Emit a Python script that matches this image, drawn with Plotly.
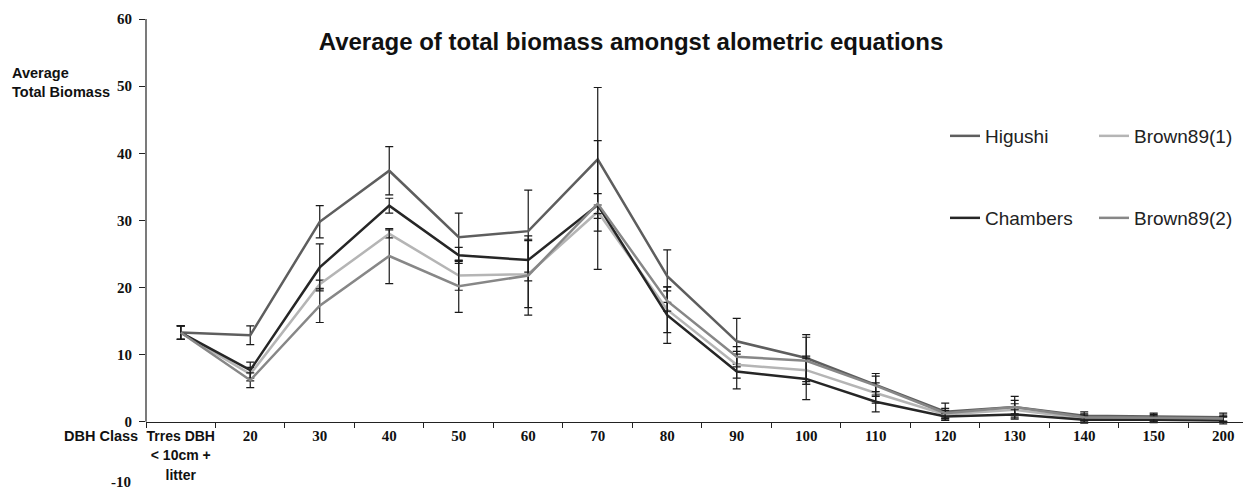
import plotly.graph_objects as go

categories = ["Trres", "20", "30", "40", "50", "60", "70", "80", "90", "100",
              "110", "120", "130", "140", "150", "200"]
tick_labels = ['<span style="font-family:Liberation Sans, Arial;font-size:14px">Trres DBH<br>&lt; 10cm +<br>litter</span>',
               "20", "30", "40", "50", "60", "70", "80", "90", "100",
               "110", "120", "130", "140", "150", "200"]

higushi = [13.3, 12.9, 29.8, 37.4, 27.5, 28.4, 39.1, 21.7, 12.0, 9.5, 5.5, 1.5, 2.2, 0.9, 0.8, 0.7]
chambers = [13.3, 7.7, 23.0, 32.2, 24.8, 24.1, 32.3, 15.9, 7.5, 6.4, 3.0, 0.8, 1.1, 0.3, 0.3, 0.2]
brown1 = [13.3, 7.1, 20.5, 28.0, 21.8, 22.0, 31.3, 16.7, 8.5, 7.7, 4.3, 1.1, 1.8, 0.5, 0.5, 0.4]
brown2 = [13.3, 6.2, 17.3, 24.7, 20.2, 21.8, 32.5, 18.0, 9.7, 9.1, 5.4, 1.3, 2.2, 0.7, 0.6, 0.5]

higushi_err = [1.0, 1.4, 2.4, 3.6, 3.6, 6.1, 10.7, 3.9, 3.4, 3.5, 1.7, 1.3, 1.6, 0.6, 0.5, 0.6]
chambers_err = [1.0, 1.2, 3.5, 1.1, 1.2, 3.1, 9.6, 4.2, 2.6, 3.1, 1.5, 0.5, 0.7, 0.5, 0.4, 0.5]
brown1_err = [1.0, 1.0, 0.6, 0.6, 2.2, 5.0, 1.0, 3.4, 2.0, 2.1, 1.5, 0.6, 0.9, 0.5, 0.4, 0.4]
brown2_err = [1.0, 1.1, 2.5, 4.1, 3.9, 5.9, 1.5, 1.5, 1.5, 3.5, 1.4, 0.7, 1.0, 0.5, 0.5, 0.5]

y_ticks = [0, 10, 20, 30, 40, 50, 60]
y_min_label = -10

series = [
    ("Higushi", higushi, higushi_err, "#5e5e5e", "legend"),
    ("Brown89(1)", brown1, brown1_err, "#b5b5b5", "legend"),
    ("Chambers", chambers, chambers_err, "#262626", "legend2"),
    ("Brown89(2)", brown2, brown2_err, "#878787", "legend2"),
]

fig = go.Figure()
for name, vals, errs, color, leg in series:
    fig.add_trace(go.Scatter(
        x=categories, y=vals, mode="lines", name=name,
        line=dict(color=color, width=2.5),
        error_y=dict(type="data", array=errs, visible=True,
                     color="#1a1a1a", thickness=1.2, width=4),
        legend=leg,
    ))

# page body has an 8px margin; figure is sized/offset to compensate
OFF = 8
W, H = 1251 - OFF, 493 - OFF
ml, mr, mt, mb = 146 - OFF, 0, 19 - OFF, 4
pw = W - ml - mr
ph = H - mt - mb

def px_x(x):
    return (x - OFF - ml) / pw

def px_y(y):
    return (H - mb - (y - OFF)) / ph

legend_common = dict(orientation="h", xanchor="left", yanchor="middle",
                     font=dict(family="Liberation Sans, Arial", size=19, color="#222222"),
                     bgcolor="rgba(0,0,0,0)", entrywidth=104, entrywidthmode="pixels",
                     itemwidth=30)

serif_bold = dict(family="Liberation Serif, Times New Roman", size=15, color="#111111", weight="bold")

fig.update_layout(
    width=W, height=H,
    margin=dict(l=ml, r=mr, t=mt, b=mb, autoexpand=False),
    plot_bgcolor="white", paper_bgcolor="white",
    showlegend=True,
    legend=dict(x=px_x(945), y=px_y(136), **legend_common),
    legend2=dict(x=px_x(945), y=px_y(218), **legend_common),
    title=dict(text="<b>Average of total biomass amongst alometric equations</b>",
               x=(631 - OFF) / W, xanchor="center",
               y=1 - (42 - OFF) / H, yanchor="middle",
               font=dict(family="Liberation Sans, Arial", size=24, color="#111111")),
    xaxis=dict(
        type="category", categoryorder="array", categoryarray=categories,
        tickvals=categories, ticktext=tick_labels, tickangle=0,
        range=[-0.5, 15.4], tickson="boundaries",
        ticks="outside", ticklen=5, tickcolor="#222222", tickwidth=1,
        showline=True, linecolor="#222222", linewidth=1.2,
        showgrid=False, zeroline=False,
        anchor="free", position=10 / 70,
        tickfont=serif_bold,
    ),
    yaxis=dict(
        range=[-10, 60], tickvals=y_ticks, ticktext=[str(v) for v in y_ticks],
        ticks="outside", ticklen=6, tickcolor="#222222",
        showline=False, showgrid=False, zeroline=False,
        tickfont=serif_bold,
        ticklabelstandoff=4,
    ),
    shapes=[dict(type="line", xref="paper", yref="y", x0=0, x1=0, y0=0, y1=60,
                 line=dict(color="#222222", width=1.2))],
    annotations=[
        dict(text="<b>Average<br>Total Biomass</b>", xref="paper", yref="paper",
             x=px_x(10), y=px_y(82), xanchor="left", yanchor="middle", align="left",
             showarrow=False, font=dict(family="Liberation Sans, Arial", size=14.5, color="#111111")),
        dict(text="<b>DBH Class</b>", xref="paper", yref="paper",
             x=px_x(140), y=px_y(436), xanchor="right", yanchor="middle",
             showarrow=False, font=dict(family="Liberation Sans, Arial", size=14.5, color="#111111")),
        dict(text=str(y_min_label), xref="paper", yref="y",
             x=px_x(133), y=y_min_label, xanchor="right", yanchor="bottom", yshift=-3,
             showarrow=False, font=serif_bold),
    ],
)

fig.write_html("out.html")
